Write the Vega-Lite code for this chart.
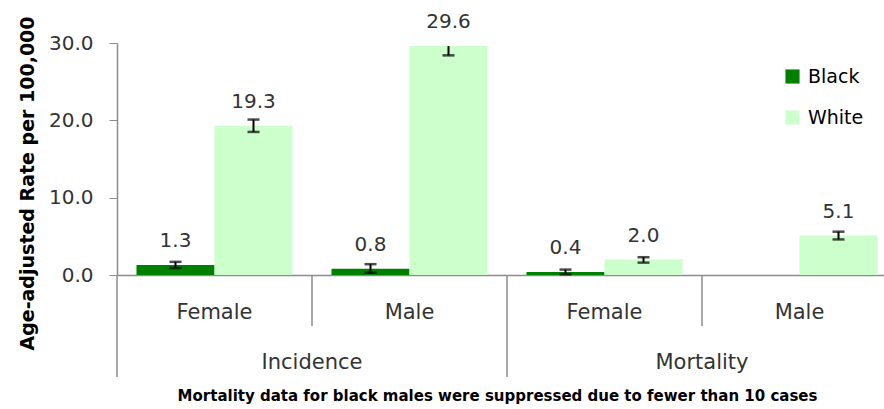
{
  "$schema": "https://vega.github.io/schema/vega-lite/v6.json",
  "autosize": {"type": "none"},
  "padding": {"left": 117, "top": 43, "right": 0, "bottom": 134},
  "width": 780,
  "height": 232,
  "config": {
    "font": "DejaVu Sans",
    "view": {"stroke": null}
  },
  "data": {
    "values": [
      {"cat": "Incidence Female", "group": "Incidence", "sex": "Female", "race": "Black", "value": 1.3, "lower": 0.9, "upper": 1.7},
      {"cat": "Incidence Female", "group": "Incidence", "sex": "Female", "race": "White", "value": 19.3, "lower": 18.5, "upper": 20.1},
      {"cat": "Incidence Male", "group": "Incidence", "sex": "Male", "race": "Black", "value": 0.8, "lower": 0.3, "upper": 1.4},
      {"cat": "Incidence Male", "group": "Incidence", "sex": "Male", "race": "White", "value": 29.6, "lower": 28.4, "upper": 29.6},
      {"cat": "Mortality Female", "group": "Mortality", "sex": "Female", "race": "Black", "value": 0.4, "lower": 0.1, "upper": 0.7},
      {"cat": "Mortality Female", "group": "Mortality", "sex": "Female", "race": "White", "value": 2.0, "lower": 1.6, "upper": 2.3},
      {"cat": "Mortality Male", "group": "Mortality", "sex": "Male", "race": "White", "value": 5.1, "lower": 4.6, "upper": 5.6}
    ]
  },
  "encoding": {
    "x": {
      "field": "cat",
      "type": "nominal",
      "sort": ["Incidence Female", "Incidence Male", "Mortality Female", "Mortality Male"],
      "scale": {"domain": ["Incidence Female", "Incidence Male", "Mortality Female", "Mortality Male"], "paddingInner": 0, "paddingOuter": 0},
      "axis": {
        "labelExpr": "split(datum.value, ' ')[1]",
        "labelAngle": 0,
        "labelFontSize": 21,
        "labelColor": "#333333",
        "labelPadding": 26,
        "ticks": false,
        "domainColor": "#8c8c8c",
        "domainWidth": 1.5,
        "grid": false,
        "title": "Mortality data for black males were suppressed due to fewer than 10 cases",
        "titleFontSize": 15,
        "titleFontWeight": "bold",
        "titleColor": "#000000",
        "titlePadding": 66,
        "titleX": 380
      }
    }
  },
  "layer": [
    {
      "mark": {"type": "bar"},
      "encoding": {
        "xOffset": {"field": "race", "type": "nominal", "scale": {"domain": ["Black", "White"], "paddingInner": 0, "paddingOuter": 0.25}},
        "y": {
          "field": "value",
          "type": "quantitative",
          "scale": {"domain": [0, 30]},
          "axis": {
            "values": [0, 10, 20, 30],
            "format": ".1f",
            "labelFontSize": 20,
            "labelColor": "#333333",
            "labelPadding": 16,
            "tickSize": 8,
            "tickColor": "#8c8c8c",
            "domainColor": "#8c8c8c",
            "domainWidth": 1.5,
            "grid": false,
            "title": "Age-adjusted Rate per 100,000",
            "titleFontSize": 19,
            "titleFontWeight": "bold",
            "titleColor": "#000000",
            "titlePadding": 11,
            "titleY": 140
          }
        },
        "color": {
          "field": "race",
          "type": "nominal",
          "scale": {"domain": ["Black", "White"], "range": ["#008000", "#CCFFCC"]},
          "legend": {
            "title": null,
            "orient": "none",
            "legendX": 666,
            "legendY": 24,
            "symbolType": "square",
            "symbolSize": 200,
            "symbolStrokeWidth": 0,
            "labelFontSize": 19,
            "labelColor": "#000000",
            "labelOffset": 6,
            "rowPadding": 21
          }
        }
      }
    },
    {
      "mark": {"type": "rule", "color": "#000000", "strokeWidth": 2},
      "encoding": {
        "xOffset": {"field": "race", "type": "nominal", "scale": {"domain": ["Black", "White"], "paddingInner": 0, "paddingOuter": 0.25}},
        "y": {"field": "lower", "type": "quantitative"},
        "y2": {"field": "upper"}
      }
    },
    {
      "mark": {"type": "tick", "color": "#000000", "size": 12, "thickness": 2.5, "orient": "horizontal"},
      "encoding": {
        "xOffset": {"field": "race", "type": "nominal", "scale": {"domain": ["Black", "White"], "paddingInner": 0, "paddingOuter": 0.25}},
        "y": {"field": "lower", "type": "quantitative"}
      }
    },
    {
      "transform": [{"filter": "datum.upper > datum.value"}],
      "mark": {"type": "tick", "color": "#000000", "size": 12, "thickness": 2.5, "orient": "horizontal"},
      "encoding": {
        "xOffset": {"field": "race", "type": "nominal", "scale": {"domain": ["Black", "White"], "paddingInner": 0, "paddingOuter": 0.25}},
        "y": {"field": "upper", "type": "quantitative"}
      }
    },
    {
      "mark": {"type": "text", "fontSize": 20, "color": "#333333", "baseline": "alphabetic", "dy": -18},
      "encoding": {
        "xOffset": {"field": "race", "type": "nominal", "scale": {"domain": ["Black", "White"], "paddingInner": 0, "paddingOuter": 0.25}},
        "y": {"field": "value", "type": "quantitative"},
        "text": {"field": "value", "type": "quantitative", "format": ".1f"}
      }
    },
    {
      "transform": [{"filter": "datum.race === 'White' && datum.sex === 'Female'"}],
      "mark": {"type": "rule", "color": "#8c8c8c", "strokeWidth": 1.5},
      "encoding": {
        "x": {"field": "cat", "type": "nominal", "bandPosition": 0},
        "y": {"datum": 0},
        "y2": {"datum": -13.2}
      }
    },
    {
      "transform": [{"filter": "datum.race === 'White' && datum.sex === 'Male'"}],
      "mark": {"type": "rule", "color": "#8c8c8c", "strokeWidth": 1.5},
      "encoding": {
        "x": {"field": "cat", "type": "nominal", "bandPosition": 0},
        "y": {"datum": 0},
        "y2": {"datum": -6.6}
      }
    },
    {
      "transform": [{"filter": "datum.race === 'White' && datum.sex === 'Male'"}],
      "mark": {"type": "text", "fontSize": 21, "color": "#333333", "baseline": "alphabetic"},
      "encoding": {
        "x": {"field": "cat", "type": "nominal", "bandPosition": 0},
        "y": {"datum": -12.2},
        "text": {"field": "group"}
      }
    }
  ]
}
